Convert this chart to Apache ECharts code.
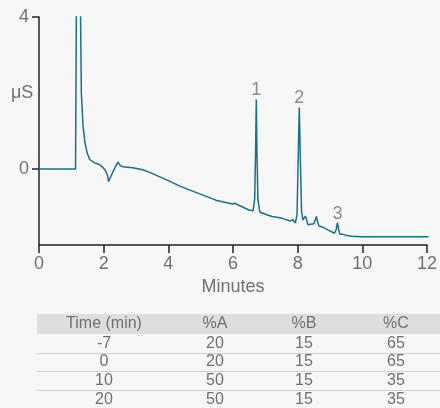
<!DOCTYPE html>
<html>
<head>
<meta charset="utf-8">
<script src="https://cdn.jsdelivr.net/npm/echarts@6/dist/echarts.min.js"></script>
<style>
html,body{margin:0;padding:0;background:#f7f7f7;}
#chart{width:440px;height:408px;}
</style>
</head>
<body>
<div id="chart"></div>
<script>
// Chromatogram trace (minutes, µS)
var times = [0.00,1.00,1.13,1.16,1.19,1.24,1.28,1.31,1.36,1.42,1.49,1.57,1.72,1.88,1.98,2.06,2.12,2.15,2.30,2.44,2.52,2.59,2.90,3.21,3.42,3.72,4.03,4.41,5.47,5.98,6.05,6.10,6.49,6.62,6.67,6.70,6.72,6.74,6.77,6.83,7.00,7.21,7.50,7.55,7.60,7.77,7.85,7.93,7.98,8.02,8.05,8.08,8.12,8.16,8.24,8.32,8.50,8.55,8.58,8.62,8.66,8.74,8.77,8.82,8.95,9.14,9.19,9.23,9.27,9.31,9.40,9.45,9.52,9.67,9.98,12.05];
var signal = [0.00,0.00,0.00,5.00,9.00,9.00,4.50,2.00,1.15,0.70,0.42,0.25,0.16,0.11,0.04,-0.05,-0.17,-0.33,-0.05,0.18,0.09,0.06,0.03,-0.02,-0.09,-0.20,-0.32,-0.47,-0.82,-0.92,-0.90,-0.95,-1.08,-1.10,-0.80,0.50,1.83,0.50,-0.80,-1.13,-1.19,-1.25,-1.29,-1.27,-1.32,-1.37,-1.33,-1.42,-1.20,0.40,1.62,0.40,-1.10,-1.34,-1.24,-1.47,-1.44,-1.32,-1.25,-1.40,-1.50,-1.52,-1.49,-1.55,-1.61,-1.69,-1.60,-1.41,-1.60,-1.72,-1.72,-1.70,-1.75,-1.77,-1.78,-1.78];

// Peak annotations
var peakTimes = [6.72, 8.05, 9.23];
var peakValues = [1.83, 1.62, -1.41];
var peakNames = ['1', '2', '3'];

// Axis ticks
var xTicks = [0, 2, 4, 6, 8, 10, 12];
var yTickValues = [0, 4];
var yLabelValues = [0, 2, 4];
var yLabelTexts = ['0', 'μS', '4'];

// Gradient table
var tableHeader = ['Time (min)', '%A', '%B', '%C'];
var tableTime = ['-7', '0', '10', '20'];
var tableA = ['20', '20', '50', '50'];
var tableB = ['15', '15', '15', '15'];
var tableC = ['65', '65', '35', '35'];

var FONT = '"Liberation Sans", Helvetica, Arial, sans-serif';
var TXT = '#707070';

var lineData = times.map(function (t, i) { return [t, signal[i]]; });
var peakData = peakTimes.map(function (t, i) { return { value: [t, peakValues[i]], name: peakNames[i] }; });

// table graphics
var colX = [104, 215, 304, 396];
var headerY = 314, headerH = 20, rowH = 18.7;
var graphics = [];
graphics.push({ type: 'rect', shape: { x: 37, y: headerY, width: 403, height: headerH }, style: { fill: '#dedede' }, silent: true });
tableHeader.forEach(function (h, c) {
  graphics.push({ type: 'text', x: colX[c], y: headerY + headerH / 2, style: { text: h, fill: TXT, font: '16px ' + FONT, textAlign: 'center', textVerticalAlign: 'middle' }, silent: true });
});
var tableCols = [tableTime, tableA, tableB, tableC];
for (var r = 0; r < tableTime.length; r++) {
  var rowTop = headerY + headerH + r * rowH;
  if (r > 0) {
    var ly = Math.round(rowTop) + 0.5;
    graphics.push({ type: 'line', shape: { x1: 37, y1: ly, x2: 440, y2: ly }, style: { stroke: '#cfcfcf', lineWidth: 1 }, silent: true });
  }
  for (var c = 0; c < 4; c++) {
    graphics.push({ type: 'text', x: colX[c], y: rowTop + rowH / 2, style: { text: tableCols[c][r], fill: TXT, font: '16px ' + FONT, textAlign: 'center', textVerticalAlign: 'middle' }, silent: true });
  }
}

var chart = echarts.init(document.getElementById('chart'), null, { renderer: 'canvas' });
chart.setOption({
  backgroundColor: '#f7f7f7',
  animation: false,
  grid: { left: 39, right: 11, top: 17, bottom: 163, containLabel: false },
  xAxis: {
    type: 'value', min: 0, max: 12, interval: 2,
    name: 'Minutes', nameLocation: 'middle', nameGap: 30,
    nameTextStyle: { color: TXT, fontSize: 18, fontFamily: FONT },
    axisLine: { show: true, onZero: false, lineStyle: { color: '#222', width: 1.5 } },
    axisTick: { show: true, length: 8, lineStyle: { color: '#222', width: 1.5 } },
    axisLabel: { color: TXT, fontSize: 18, fontFamily: FONT, margin: 10,
      customValues: xTicks },
    splitLine: { show: false }
  },
  yAxis: {
    type: 'value', min: -2, max: 4, interval: 2,
    axisLine: { show: true, lineStyle: { color: '#222', width: 1.5 } },
    axisTick: { show: true, length: 7, customValues: yTickValues, lineStyle: { color: '#222', width: 1.5 } },
    axisLabel: { color: TXT, fontSize: 18, fontFamily: FONT, margin: 10,
      customValues: yLabelValues,
      formatter: function (v) {
        var i = yLabelValues.indexOf(v);
        if (i < 0) return '';
        return v === 2 ? '{u|' + yLabelTexts[i] + '}' : yLabelTexts[i];
      },
      rich: { u: { color: TXT, fontSize: 18, fontFamily: FONT, width: 18, align: 'left' } } },
    splitLine: { show: false }
  },
  series: [
    {
      type: 'line', data: lineData, showSymbol: false, symbol: 'none', clip: true,
      lineStyle: { color: '#1d6f85', width: 1.5 }, z: 3
    },
    {
      type: 'scatter', data: peakData, symbolSize: 0, silent: true,
      label: { show: true, position: 'top', distance: 0, formatter: '{b}', color: TXT, fontSize: 18, fontFamily: FONT }
    }
  ],
  graphic: { elements: graphics }
});
</script>
</body>
</html>
